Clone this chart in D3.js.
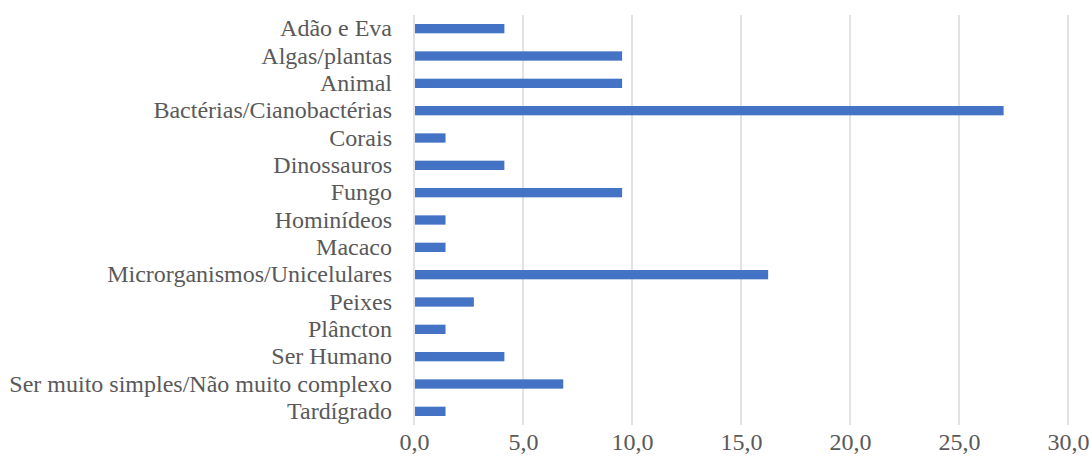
<!DOCTYPE html>
<html>
<head>
<meta charset="utf-8">
<script src="https://cdn.jsdelivr.net/npm/d3@7"></script>
<style>
  body { margin: 0; background: #fff; }
  text { font-family: "Liberation Serif", "Times New Roman", serif; fill: #595959; }
</style>
</head>
<body>
<div id="chart"></div>
<script>
/*
 * data
 */
const categories = [
  'Adão e Eva', 'Algas/plantas', 'Animal', 'Bactérias/Cianobactérias', 'Corais',
  'Dinossauros', 'Fungo', 'Hominídeos', 'Macaco', 'Microrganismos/Unicelulares',
  'Peixes', 'Plâncton', 'Ser Humano', 'Ser muito simples/Não muito complexo', 'Tardígrado'
]
const values = [4.1, 9.5, 9.5, 27.0, 1.4, 4.1, 9.5, 1.4, 1.4, 16.2, 2.7, 1.4, 4.1, 6.8, 1.4]
const xTicks = [0, 5, 10, 15, 20, 25, 30]

/*
 * setup
 */
const w = 1090
const h = 465
const margin = { top: 15, right: 22, bottom: 40, left: 414 }

const svg = d3.select('#chart')
  .append('svg')
  .attr('width', w)
  .attr('height', h)

const x = d3.scaleLinear()
  .domain([0, 30])
  .range([margin.left, w - margin.right])

const y = d3.scaleBand()
  .domain(categories)
  .range([margin.top, h - margin.bottom])
  .paddingInner(0.66)
  .paddingOuter(0.33)

const fmt = d => d3.format('.1f')(d).replace('.', ',')

// gridlines
svg.append('g')
  .selectAll('line')
  .data(xTicks)
  .enter()
  .append('line')
  .attr('x1', d => x(d))
  .attr('x2', d => x(d))
  .attr('y1', margin.top)
  .attr('y2', h - margin.bottom)
  .style('stroke', '#d9d9d9')
  .style('stroke-width', 1.5)

// bars
svg.append('g')
  .selectAll('rect')
  .data(values)
  .enter()
  .append('rect')
  .attr('x', x(0) + 1)
  .attr('y', (d, i) => y(categories[i]))
  .attr('width', d => x(d) - x(0))
  .attr('height', y.bandwidth())
  .style('fill', '#4472c4')

// axes
const xAxis = svg.append('g')
  .attr('transform', `translate(0,${h - margin.bottom})`)
  .call(d3.axisBottom(x).tickValues(xTicks).tickFormat(fmt).tickSize(0).tickPadding(8))
xAxis.select('.domain').remove()
xAxis.selectAll('text')
  .style('font-size', '24px')
  .style('font-family', '"Liberation Serif", serif')
  .attr('fill', '#595959')

const yAxis = svg.append('g')
  .attr('transform', `translate(${margin.left},0)`)
  .call(d3.axisLeft(y).tickSize(0).tickPadding(22))
yAxis.select('.domain').remove()
yAxis.selectAll('text')
  .style('font-size', '24px')
  .style('font-family', '"Liberation Serif", serif')
  .attr('fill', '#595959')
</script>
</body>
</html>
